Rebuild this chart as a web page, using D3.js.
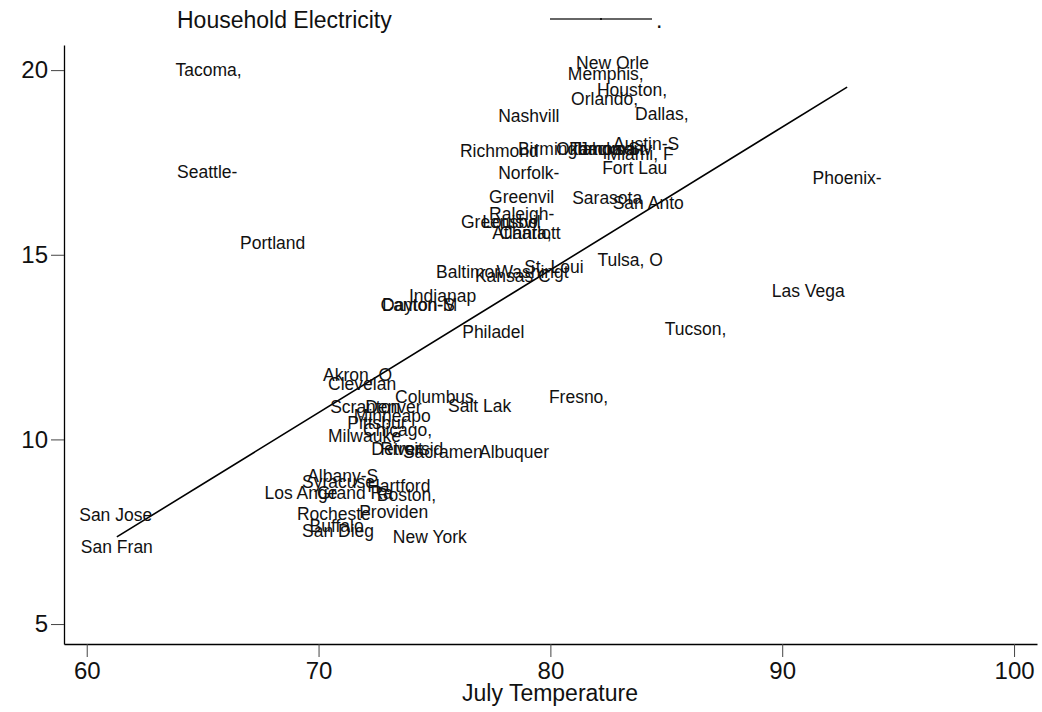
<!DOCTYPE html>
<html>
<head>
<meta charset="utf-8">
<script src="https://cdn.jsdelivr.net/npm/d3@7"></script>
<style>
  body { margin: 0; background: #fff; }
  svg text { font-family: "Liberation Sans", Arial, Helvetica, sans-serif; fill: #111; }
  .tick line { stroke: #444; }
  .domain { stroke: #000; }
</style>
</head>
<body>
<svg id="chart" width="1042" height="712"></svg>
<script>
// city labels (truncated to 8 chars as in the source data)
var cities = [
  "Tacoma, ", "Seattle-", "Portland", "San Jose", "San Fran",
  "New Orle", "Memphis,", "Houston,", "Orlando,", "Dallas, ", "Nashvill",
  "Richmond", "Birmingh", "Oklahoma", "Tampa-St", "Jacksonv", "Austin-S", "Miami, F",
  "Fort Lau", "Norfolk-", "Greenvil", "Sarasota", "San Anto", "Raleigh-",
  "Greensbo", "Louisvil", "Atlanta,", "Charlott", "Tulsa, O", "Phoenix-",
  "Las Vega", "Tucson, ", "Baltimor", "Washingt", "St. Loui", "Kansas C",
  "Indianap", "Dayton-S", "Canton-M", "Philadel", "Fresno, ", "Akron, O", "Clevelan",
  "Columbus", "Salt Lak", "Scranton", "Denver", "Minneapo", "Pittsbur",
  "Chicago,", "Milwauke", "Detroit", "Riversid", "Sacramen", "Albuquer",
  "Albany-S", "Syracuse", "Hartford", "Los Ange", "Grand Ra", "Boston, ",
  "Rocheste", "Providen", "Buffalo", "San Dieg", "New York"
];
// July temperature
var tempJuly = [
  65.36, 65.20, 68.02, 61.25, 61.30,
  82.68, 82.39, 83.52, 82.34, 84.91, 79.07,
  77.80, 80.09, 81.96, 82.46, 82.81, 84.13, 83.87,
  83.64, 79.07, 78.76, 82.45, 84.22, 78.76,
  77.80, 78.32, 78.77, 79.12, 83.44, 92.80,
  91.12, 86.37, 76.45, 79.23, 80.15, 78.38,
  75.35, 74.31, 74.33, 77.54, 81.32, 71.68, 71.88,
  75.00, 76.95, 72.01, 73.23, 73.18, 72.52,
  73.41, 71.98, 73.39, 74.02, 75.36, 78.43,
  71.04, 70.86, 73.46, 69.24, 71.57, 73.90,
  70.66, 73.24, 70.78, 70.84, 74.80
];
// household electricity
var electricity = [
  20.00, 17.24, 15.34, 7.95, 7.09,
  20.19, 19.89, 19.46, 19.22, 18.81, 18.76,
  17.81, 17.86, 17.86, 17.86, 17.86, 18.02, 17.75,
  17.35, 17.21, 16.56, 16.54, 16.40, 16.10,
  15.89, 15.89, 15.59, 15.59, 14.86, 17.10,
  14.02, 12.99, 14.53, 14.53, 14.67, 14.42,
  13.88, 13.64, 13.64, 12.93, 11.17, 11.74, 11.50,
  11.15, 10.90, 10.88, 10.88, 10.63, 10.44,
  10.25, 10.09, 9.74, 9.74, 9.66, 9.66,
  9.03, 8.85, 8.74, 8.57, 8.57, 8.49,
  7.98, 8.03, 7.65, 7.52, 7.36
];
// linear fit endpoints
var fitX = [61.3, 92.8];
var fitY = [7.36, 19.54];

var xTicks = [60, 70, 80, 90, 100];
var yTicks = [5, 10, 15, 20];

var svg = d3.select("#chart");

var x = d3.scaleLinear()
    .domain([59.02, 100.99])
    .range([64, 1037]);

var y = d3.scaleLinear()
    .domain([4.46, 20.68])
    .range([644, 45]);

// axes
var xAxis = svg.append("g")
    .attr("transform", "translate(0,644)")
    .call(d3.axisBottom(x).tickValues(xTicks).tickSize(13).tickSizeOuter(0).tickPadding(5));
xAxis.selectAll("text").style("font-size", "24px");

var yAxis = svg.append("g")
    .attr("transform", "translate(64,0)")
    .call(d3.axisLeft(y).tickValues(yTicks).tickSize(13).tickSizeOuter(0).tickPadding(3));
yAxis.selectAll("text").style("font-size", "24px");

svg.selectAll(".domain").attr("stroke-width", 1.3);

svg.append("text")
    .attr("x", 550)
    .attr("y", 701)
    .attr("text-anchor", "middle")
    .style("font-size", "23px")
    .text("July Temperature");

// fit line
var pts = fitX.map(function(d, i) { return [d, fitY[i]]; });
svg.append("path")
    .datum(pts)
    .attr("fill", "none")
    .attr("stroke", "#000")
    .attr("stroke-width", 1.6)
    .attr("d", d3.line().x(function(d) { return x(d[0]); }).y(function(d) { return y(d[1]); }));

// marker labels centred on the (invisible) points
svg.append("g").selectAll("text")
    .data(cities)
    .enter().append("text")
    .attr("x", function(d, i) { return x(tempJuly[i]); })
    .attr("y", function(d, i) { return y(electricity[i]); })
    .attr("dy", "0.36em")
    .attr("text-anchor", "middle")
    .style("font-size", "17.5px")
    .style("white-space", "pre")
    .text(function(d) { return d; });

// legend
var legend = svg.append("g");
legend.append("text")
    .attr("x", 177)
    .attr("y", 28)
    .style("font-size", "23px")
    .text("Household Electricity");
legend.append("line")
    .attr("x1", 550).attr("x2", 652)
    .attr("y1", 19).attr("y2", 19)
    .attr("stroke", "#333")
    .attr("stroke-width", 1.3);
legend.append("circle")
    .attr("cx", 601).attr("cy", 19)
    .attr("r", 1)
    .attr("fill", "#000");
legend.append("text")
    .attr("x", 656)
    .attr("y", 28)
    .style("font-size", "23px")
    .text(".");
</script>
</body>
</html>
